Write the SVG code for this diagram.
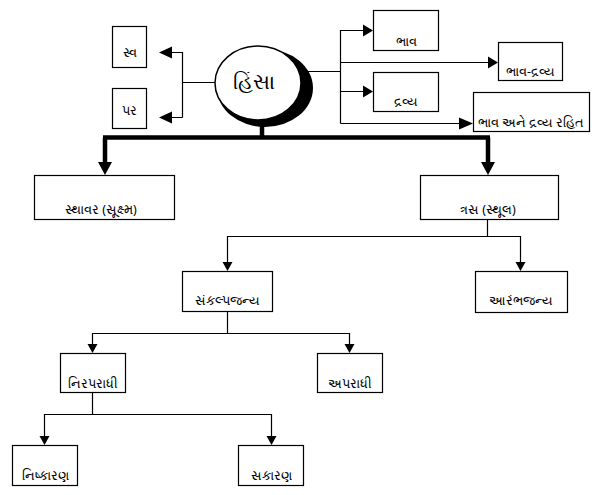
<svg xmlns="http://www.w3.org/2000/svg" width="599" height="495" viewBox="0 0 599 495">
<defs>
<style>
.box{fill:#fff;stroke:#000;stroke-width:1.2}
.t{font-family:"Noto Sans","DejaVu Sans",sans-serif;font-size:12.5px;font-weight:normal;fill:#000;text-anchor:middle}
.big{font-family:"Noto Sans","DejaVu Sans",sans-serif;font-size:21px;font-weight:normal;fill:#000;text-anchor:middle}
.ln{fill:none;stroke:#000;stroke-width:1.2}
.thick{fill:none;stroke:#000;stroke-width:4.5}
.ah{fill:#000}
</style>
</defs>
<rect width="599" height="495" fill="#fff"/>
<g id="connectors">
<path class="ln" d="M215,82.5H182.5M182.5,52V117.5M182.5,52.5H171M182.5,117.5H171"/>
<polygon class="ah" points="159,52.5 172,46.5 172,58.5"/>
<polygon class="ah" points="159,117.5 172,111.5 172,123.5"/>
<path class="ln" d="M305,71.5H340.5M340.5,30V123.5M340.5,30.5H364M340.5,62.5H489M340.5,91.5H364M340.5,123.5H462"/>
<polygon class="ah" points="373,30.5 363,24.5 363,36.5"/>
<polygon class="ah" points="498,62.5 488,56.5 488,68.5"/>
<polygon class="ah" points="373,91.5 363,85.5 363,97.5"/>
<polygon class="ah" points="473,123.5 459,117.5 459,129.5"/>
<path class="thick" d="M262,125V137.5M103,137.5H490M105,137.5V164M488,137.5V164"/>
<polygon class="ah" points="105,175 98,162 112,162"/>
<polygon class="ah" points="488,175 481,162 495,162"/>
<path class="ln" d="M487.5,219V236.5M227.5,236.5H520.5M227.5,236V263M520.5,236V263"/>
<polygon class="ah" points="227.5,271 222.5,262 232.5,262"/>
<polygon class="ah" points="520.5,271 515.5,262 525.5,262"/>
<path class="ln" d="M227.5,311V333.5M92.5,333.5H349.5M92.5,333V345M349.5,333V345"/>
<polygon class="ah" points="92.5,353 87.5,344 97.5,344"/>
<polygon class="ah" points="349.5,353 344.5,344 354.5,344"/>
<path class="ln" d="M92.5,392V414.5M44.5,414.5H271.5M44.5,414V437M271.5,414V437"/>
<polygon class="ah" points="44.5,445 39.5,436 49.5,436"/>
<polygon class="ah" points="271.5,445 266.5,436 276.5,436"/>
</g>
<g id="hinsa">
<ellipse cx="265" cy="88" rx="48" ry="39" fill="#000"/>
<ellipse cx="258" cy="83" rx="43" ry="37" fill="#fff" stroke="#000" stroke-width="1.5"/>
<text class="big" x="254" y="89">હિંસા</text>
</g>
<g id="sva"><rect class="box" x="112.5" y="26.5" width="34" height="41"/><text class="t" x="129.5" y="57">સ્વ</text></g>
<g id="para"><rect class="box" x="112.5" y="88.5" width="34" height="40"/><text class="t" x="129.5" y="115">પર</text></g>
<g id="bhava"><rect class="box" x="373.5" y="10.5" width="65" height="40"/><text class="t" x="406" y="46">ભાવ</text></g>
<g id="bhava-dravya"><rect class="box" x="498.5" y="42.5" width="64" height="38"/><text class="t" x="530.5" y="76">ભાવ-દ્રવ્ય</text></g>
<g id="dravya"><rect class="box" x="373.5" y="72.5" width="65" height="39"/><text class="t" x="406" y="106">દ્રવ્ય</text></g>
<g id="rahita"><rect class="box" x="473.5" y="92.5" width="116" height="39"/><text class="t" x="531" y="127">ભાવ અને  દ્રવ્ય રહિત</text></g>
<g id="sthavara"><rect class="box" x="34.5" y="175.5" width="140" height="44"/><text class="t" x="101" y="214">સ્થાવર (સૂક્ષ્મ)</text></g>
<g id="trasa"><rect class="box" x="420.5" y="175.5" width="138" height="44"/><text class="t" x="488" y="214">ત્રસ (સ્થૂલ)</text></g>
<g id="sankalpajanya"><rect class="box" x="182.5" y="271.5" width="90" height="40"/><text class="t" x="227.5" y="305">સંકલ્પજન્ય</text></g>
<g id="arambhajanya"><rect class="box" x="475.5" y="271.5" width="92" height="41"/><text class="t" x="521" y="305">આરંભજન્ય</text></g>
<g id="niraparadhi"><rect class="box" x="60.5" y="353.5" width="65" height="39"/><text class="t" x="93" y="388">નિરપરાધી</text></g>
<g id="aparadhi"><rect class="box" x="317.5" y="353.5" width="65" height="39"/><text class="t" x="350" y="388">અપરાધી</text></g>
<g id="nishkarana"><rect class="box" x="12.5" y="445.5" width="65" height="40"/><text class="t" x="45" y="480">નિષ્કારણ</text></g>
<g id="sakarana"><rect class="box" x="238.5" y="445.5" width="65" height="40"/><text class="t" x="271" y="480">સકારણ</text></g>
</svg>
